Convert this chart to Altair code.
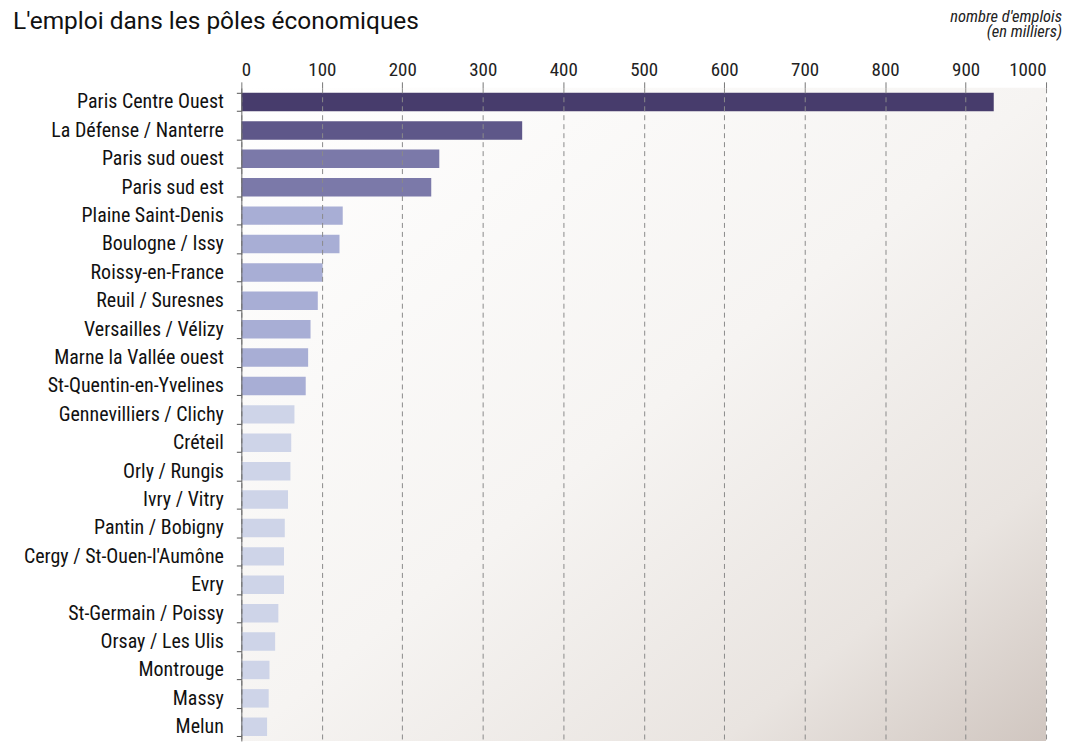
import altair as alt
import pandas as pd

title_text = "L'emploi dans les pôles économiques"
note_line1 = "nombre d'emplois"
note_line2 = "(en milliers)"

poles = [
    "Paris Centre Ouest", "La Défense / Nanterre", "Paris sud ouest", "Paris sud est ",
    "Plaine Saint-Denis", "Boulogne / Issy", "Roissy-en-France", "Reuil / Suresnes",
    "Versailles / Vélizy", "Marne la Vallée ouest", "St-Quentin-en-Yvelines",
    "Gennevilliers / Clichy", "Créteil ", "Orly / Rungis", "Ivry / Vitry ",
    "Pantin / Bobigny", "Cergy / St-Ouen-l'Aumône", "Evry", "St-Germain / Poissy",
    "Orsay / Les Ulis", "Montrouge ", "Massy", "Melun",
]
emplois = [935, 349, 246, 236, 126, 122, 101, 95, 86, 83, 80,
           66, 62, 61, 58, 54, 53, 53, 46, 42, 35, 34, 32]
tiers = ["t1", "t2", "t3", "t3"] + ["t4"] * 7 + ["t5"] * 12
tier_names = ["t1", "t2", "t3", "t4", "t5"]
tier_colors = ["#473c6c", "#5e5789", "#7b79a9", "#a8aed5", "#ced4e8"]
x_ticks = [0, 100, 200, 300, 400, 500, 600, 700, 800, 900, 1000]

FONT = "Liberation Sans Narrow, Roboto Condensed, DejaVu Sans Condensed, Arial Narrow, sans-serif"
TITLE_FONT = "Roboto, Liberation Sans, sans-serif"
W, H = 807, 655

df = pd.DataFrame({"pole": poles, "emplois": emplois, "tier": tiers})
bg_df = pd.DataFrame({"x0": [0], "x1": [1000]})

xscale = alt.Scale(domain=[0, 1000], nice=False)

background = alt.Chart(bg_df).mark_rect(
    color=alt.Gradient(
        gradient="linear",
        stops=[
            alt.GradientStop(offset=0, color="#ffffff"),
            alt.GradientStop(offset=0.5, color="#f6f4f2"),
            alt.GradientStop(offset=0.8, color="#e9e4e0"),
            alt.GradientStop(offset=1, color="#d0c6c0"),
        ],
        x1=0, y1=0, x2=1, y2=1,
    )
).encode(
    x=alt.X("x0:Q", scale=xscale),
    x2="x1:Q",
    y=alt.value(0),
    y2=alt.value(H),
)

bars = alt.Chart(df).mark_bar().encode(
    x=alt.X(
        "emplois:Q",
        scale=xscale,
        axis=alt.Axis(
            orient="top", values=x_ticks, title=None, domain=False, format="d",
            grid=True, gridDash=[5, 4], gridColor="#8a8a8a", gridWidth=1,
            tickSize=6, tickColor="#777777", labelPadding=2,
            labelFont=FONT, labelFontSize=19, labelColor="#222222", zindex=1,
        ),
    ),
    y=alt.Y(
        "pole:N", sort=poles, title=None,
        scale=alt.Scale(paddingInner=0.35),
        axis=alt.Axis(
            tickBand="extent", tickSize=5, tickColor="#555555",
            domain=True, domainColor="#666666", labelPadding=13, labelLimit=0,
            labelFont=FONT, labelFontSize=20, labelColor="#111111", zindex=1,
        ),
    ),
    color=alt.Color("tier:N", scale=alt.Scale(domain=tier_names, range=tier_colors), legend=None),
)

title_mark = alt.Chart(pd.DataFrame({"t": [title_text]})).mark_text(
    align="left", baseline="alphabetic", font=TITLE_FONT, fontSize=24.5, color="#111111"
).encode(x=alt.value(-229), y=alt.value(-59), text="t:N")

note_mark1 = alt.Chart(pd.DataFrame({"t": [note_line1]})).mark_text(
    align="right", baseline="alphabetic", font=FONT, fontSize=16.5, fontStyle="italic", color="#222222"
).encode(x=alt.value(823), y=alt.value(-66), text="t:N")

note_mark2 = alt.Chart(pd.DataFrame({"t": [note_line2]})).mark_text(
    align="right", baseline="alphabetic", font=FONT, fontSize=16.5, fontStyle="italic", color="#222222"
).encode(x=alt.value(823), y=alt.value(-51), text="t:N")

chart = alt.layer(background, bars, title_mark, note_mark1, note_mark2).properties(
    width=W, height=H,
    autosize=alt.AutoSizeParams(type="none"),
    padding={"left": 234, "top": 79, "right": 16, "bottom": 0},
).configure_view(stroke=None)

chart.save("out.html", embed_options={"renderer": "svg", "actions": False})
